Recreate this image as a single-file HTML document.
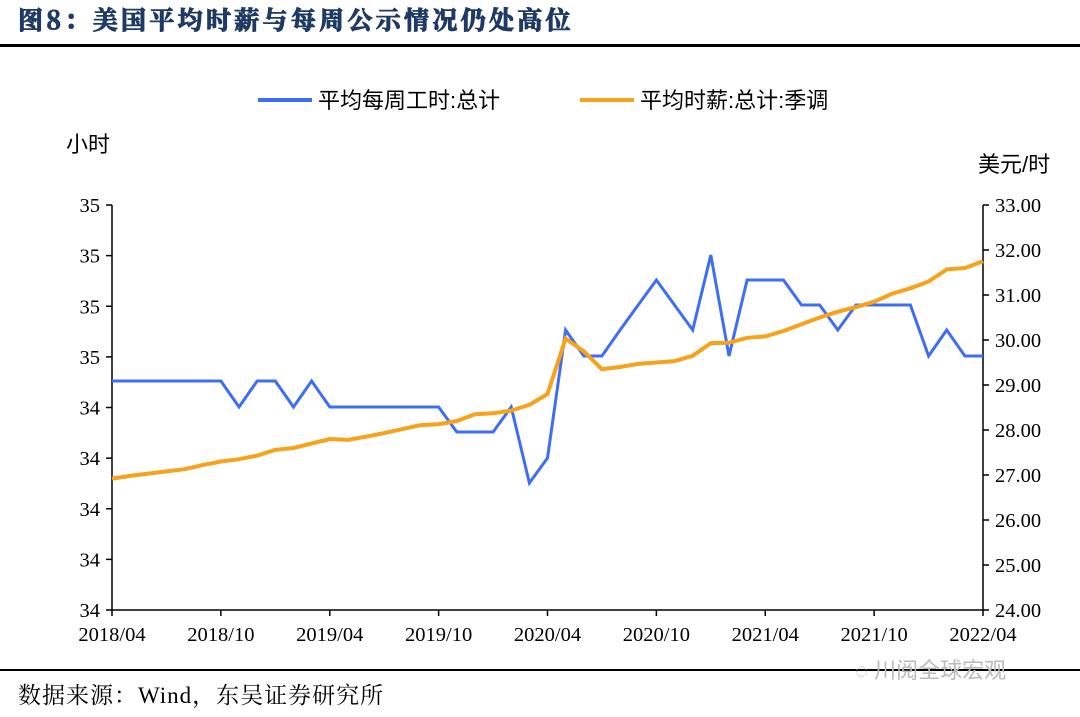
<!DOCTYPE html>
<html><head><meta charset="utf-8"><style>
body{margin:0;background:#fff;width:1080px;height:717px;overflow:hidden}
svg{display:block}
text{font-family:"Liberation Serif","Noto Serif CJK SC",serif;fill:#000}
.c{font-family:"Liberation Sans","Noto Sans CJK SC",sans-serif}
</style></head><body>
<svg id="s" width="1080" height="717" xmlns="http://www.w3.org/2000/svg">
<text x="18" y="29" font-size="25" font-weight="bold" letter-spacing="3.3" stroke="#1f3a64" stroke-width="1" style="fill:#1f3a64;font-family:'Noto Serif CJK SC',serif">图8：美国平均时薪与每周公示情况仍处高位</text>
<rect x="0" y="44" width="1080" height="3" fill="#000"/>
<rect x="0" y="669" width="1080" height="2" fill="#000"/>
<text x="18" y="703" font-size="23" letter-spacing="1" style="font-family:'Liberation Serif','Noto Serif CJK SC',serif">数据来源：Wind，东吴证券研究所</text>
<text x="855" y="678" font-size="22" class="c" style="fill:#bbb">◌ 川阅全球宏观</text>
<line x1="258" y1="100" x2="312" y2="100" stroke="#3d6ef5" stroke-width="4"/>
<text x="318" y="108" font-size="22" class="c">平均每周工时:总计</text>
<line x1="580" y1="100" x2="634" y2="100" stroke="#f7a21b" stroke-width="4"/>
<text x="640" y="108" font-size="22" class="c">平均时薪:总计:季调</text>
<text x="66" y="152" font-size="22" class="c">小时</text>
<text x="978" y="172" font-size="22" class="c">美元/时</text>
<g id="ax" stroke="#000" stroke-width="1.5"></g>
<g id="lab" font-size="20.5"></g>
</svg>
<script>
var s=document.getElementById('s'),ax=document.getElementById('ax'),lab=document.getElementById('lab'),NS='http://www.w3.org/2000/svg';
function el(p,t,a,txt){var e=document.createElementNS(NS,t);for(var k in a)e.setAttribute(k,a[k]);if(txt)e.textContent=txt;p.appendChild(e);return e}
var X0=112,X1=983,Y0=205,Y1=610,dx=(X1-X0)/48;
el(ax,'line',{x1:X0,y1:Y0,x2:X0,y2:Y1});el(ax,'line',{x1:X1,y1:Y0,x2:X1,y2:Y1});el(ax,'line',{x1:X0,y1:Y1,x2:X1,y2:Y1});
var ll=['35','35','35','35','34','34','34','34','34'];
for(var i=0;i<9;i++){var y=Y0+i*(Y1-Y0)/8;el(ax,'line',{x1:X0-6,y1:y,x2:X0,y2:y});
el(lab,'text',{x:X0-12,y:y+7,'text-anchor':'end'},ll[i]);}
for(var i=0;i<10;i++){var y=Y0+i*45;el(ax,'line',{x1:X1,y1:y,x2:X1+6,y2:y});el(lab,'text',{x:X1+12,y:y+7},(33-i).toFixed(2));}
var xl=['2018/04','2018/10','2019/04','2019/10','2020/04','2020/10','2021/04','2021/10','2022/04'];
for(var i=0;i<9;i++){var x=X0+i*6*dx;el(ax,'line',{x1:x,y1:Y1,x2:x,y2:Y1+6});el(lab,'text',{x:x,y:Y1+31,'text-anchor':'middle'},xl[i]);}
var b=[381,381,381,381,381,381,381,407,381,381,407,381,407,407,407,407,407,407,407,432,432,432,407,483,458,330,356,356,330,305,280,305,330,255,356,280,280,280,305,305,330,305,305,305,305,356,330,356,356];
var o=[26.92,26.98,27.03,27.08,27.13,27.22,27.3,27.35,27.43,27.56,27.6,27.7,27.8,27.78,27.85,27.93,28.02,28.11,28.13,28.2,28.35,28.37,28.43,28.56,28.8,30.03,29.75,29.35,29.4,29.47,29.5,29.53,29.65,29.93,29.94,30.05,30.08,30.2,30.35,30.5,30.63,30.73,30.85,31.03,31.15,31.3,31.57,31.6,31.75,31.85];
o=o.slice(0,49);
var pb=b.map(function(v,i){return (X0+i*dx).toFixed(1)+','+v}).join(' ');
var po=o.map(function(v,i){return (X0+i*dx).toFixed(1)+','+(Y0+(33-v)*45).toFixed(1)}).join(' ');
el(s,'polyline',{points:pb,fill:'none',stroke:'#3d6ef5','stroke-width':3});
el(s,'polyline',{points:po,fill:'none',stroke:'#f7a21b','stroke-width':4});
</script>
</body></html>
